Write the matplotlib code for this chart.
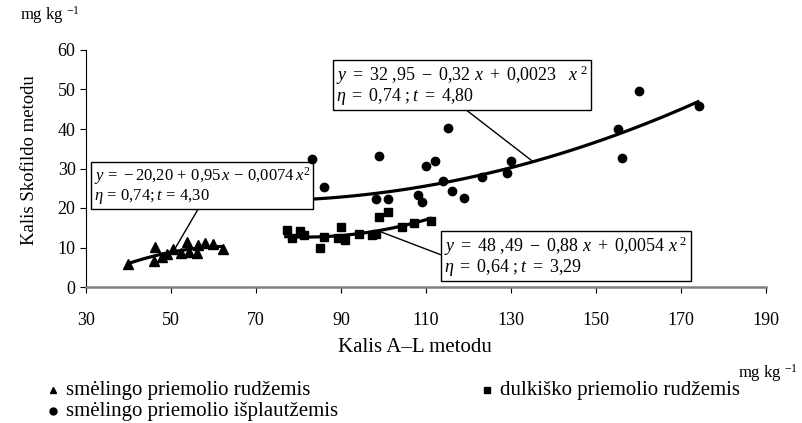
import numpy as np
import matplotlib
matplotlib.use("Agg")
import matplotlib.pyplot as plt
from matplotlib.lines import Line2D

plt.rcParams['font.family'] = ['Liberation Serif', 'DejaVu Serif']
plt.rcParams['mathtext.fontset'] = 'custom'
plt.rcParams['mathtext.rm'] = 'Liberation Serif'
plt.rcParams['mathtext.it'] = 'Liberation Serif:italic'
plt.rcParams['mathtext.bf'] = 'Liberation Serif:bold'

# --- data: smėlingo priemolio rudžemis (triangles)
tri_x = [39.8, 46.2, 45.9, 47.8, 49.0, 50.5, 52.4, 53.8, 54.3, 56.0, 56.4, 58.1, 59.8, 62.2]
tri_y = [5.8, 10.2, 6.5, 7.6, 8.3, 9.7, 8.7, 11.4, 8.9, 8.5, 10.6, 11.1, 11.0, 9.7]
# --- data: dulkiško priemolio rudžemis (squares)
sq_x = [77.2, 78.4, 80.4, 81.3, 85.1, 86.1, 90.0, 89.4, 90.9, 94.3, 97.2, 98.2, 99.0, 101.1, 104.3, 107.1, 111.1]
sq_y = [14.4, 12.3, 14.1, 13.1, 9.9, 12.7, 15.2, 12.3, 11.8, 13.5, 13.1, 13.5, 17.8, 18.9, 15.2, 16.1, 16.6]
# --- data: smėlingo priemolio išplautžemis (circles)
ci_x = [83.1, 86.0, 99.0, 115.1, 110.1, 112.1, 98.2, 101.1, 108.0, 109.1, 114.1, 116.1, 119.0,
        123.2, 129.1, 130.0, 155.2, 156.2, 160.1, 174.2]
ci_y = [32.4, 25.4, 33.1, 40.2, 30.7, 31.8, 22.2, 22.4, 23.4, 21.6, 26.9, 24.2, 22.6,
        27.8, 28.8, 31.9, 40.1, 32.7, 49.5, 45.7]

# trend equations shown on the chart (a + b x + c x^2)
tri_coef = [-20.20, 0.95, -0.0074]
sq_coef = [48.49, -0.88, 0.0054]
ci_coef = [32.95, -0.32, 0.0023]
tri_range = [40, 62]
sq_range = [77, 111]
ci_range = [83, 174]

x_ticks = [30, 50, 70, 90, 110, 130, 150, 170, 190]
y_ticks = [0, 10, 20, 30, 40, 50, 60]

legend_labels = ["smėlingo priemolio rudžemis", "dulkiško priemolio rudžemis",
                 "smėlingo priemolio išplautžemis"]

W, H = 802, 423
fig = plt.figure(figsize=(W / 100, H / 100), dpi=100)
ax = fig.add_axes([86 / W, 1 - 287 / H, 680 / W, 237 / H])

def quad(coef, rng):
    xs = np.linspace(rng[0], rng[1], 100)
    return xs, coef[0] + coef[1] * xs + coef[2] * xs ** 2

for coef, rng in [(tri_coef, tri_range), (sq_coef, sq_range), (ci_coef, ci_range)]:
    xs, ys = quad(coef, rng)
    ax.plot(xs, ys, color='black', lw=2.3, zorder=3)

ax.plot(tri_x, tri_y, ls='none', marker='^', ms=6.5, color='black', zorder=4)
ax.plot(sq_x, sq_y, ls='none', marker='s', ms=6, color='black', zorder=4)
ax.plot(ci_x, ci_y, ls='none', marker='o', ms=6, color='black', zorder=4)

ax.set_xlim(30, 190)
ax.set_ylim(0, 60)
ax.set_xticks(x_ticks)
ax.set_yticks(y_ticks)
ax.tick_params(labelsize=13, direction='out', length=4, width=0.8, colors='black')
ax.tick_params(axis='x', pad=14)
ax.spines['top'].set_visible(False)
ax.spines['right'].set_visible(False)
ax.spines['bottom'].set_color('#808080')
ax.spines['bottom'].set_linewidth(1.8)
ax.spines['left'].set_color('black')
ax.spines['left'].set_linewidth(0.8)

fig.text(415 / W, 1 - 347 / H, "Kalis A–L metodu", fontsize=15, ha='center', va='center')
fig.text(30 / W, 1 - 160 / H, "Kalis Skofildo metodu", fontsize=13.5, ha='center', va='center',
         rotation=90)

fig.text(20 / W, 1 - 15 / H, r"mg kg $^{-1}$", fontsize=12, va='center', ha='left')
fig.text(738 / W, 1 - 373 / H, r"mg kg $^{-1}$", fontsize=12, va='center', ha='left')

# equation boxes
def val(coef, x):
    return coef[0] + coef[1] * x + coef[2] * x ** 2

pad = 0.18
bbox = dict(boxstyle='square,pad=%.2f' % pad, fc='white', ec='black', lw=1)

def off(fs):
    return pad * fs * 100 / 72

fs1 = 12
ax.annotate("$y\\,=\\,-20{,}20\\,+\\,0{,}95\\,x\\,-\\,0{,}0074\\,x^2$\n$\\eta\\,=\\,0{,}74; t\\,=\\,4{,}30$",
            xy=(50.5, val(tri_coef, 50.5)), xycoords='data',
            xytext=(91 + off(fs1), H - 162 - off(fs1)), textcoords='figure pixels',
            ha='left', va='top', fontsize=fs1, bbox=bbox, linespacing=1.0,
            arrowprops=dict(arrowstyle='-', lw=1, color='black', relpos=(0.49, 0),
                            shrinkA=0, shrinkB=0))
fs2 = 13
ax.annotate("$y\\ =\\ 32\\ {,}95\\ -\\ 0{,}32\\ x\\ +\\ 0{,}0023\\ \\ \\ x^{\\ 2}$\n$\\eta\\ =\\ 0{,}74\\ ;t\\ =\\ 4{,}80$",
            xy=(135.2, val(ci_coef, 135.2)), xycoords='data',
            xytext=(333 + off(fs2), H - 60 - off(fs2)), textcoords='figure pixels',
            ha='left', va='top', fontsize=fs2, bbox=bbox, linespacing=0.95,
            arrowprops=dict(arrowstyle='-', lw=1, color='black', relpos=(0.5, 0),
                            shrinkA=0, shrinkB=0))
ax.annotate("$y\\ =\\ 48\\ {,}49\\ -\\ 0{,}88\\ x\\ +\\ 0{,}0054\\ x^{\\ 2}$\n$\\eta\\ =\\ 0{,}64\\ ;t\\ =\\ 3{,}29$",
            xy=(98.7, val(sq_coef, 98.7)), xycoords='data',
            xytext=(441 + off(fs2), H - 231 - off(fs2)), textcoords='figure pixels',
            ha='left', va='top', fontsize=fs2, bbox=bbox, linespacing=0.95,
            arrowprops=dict(arrowstyle='-', lw=1, color='black', relpos=(0, 0.5),
                            shrinkA=0, shrinkB=0))

# legend (manual)
leg = [(53, 390, '^', 0), (487, 390, 's', 1), (53, 411, 'o', 2)]
for px, py, m, i in leg:
    fig.add_artist(Line2D([px / W], [1 - py / H], marker=m, ms=5, color='black',
                          ls='none', transform=fig.transFigure))
    fig.text((px + 13) / W, 1 - py / H, legend_labels[i], fontsize=15, va='center', ha='left')

fig.savefig("out.png", dpi=100)
